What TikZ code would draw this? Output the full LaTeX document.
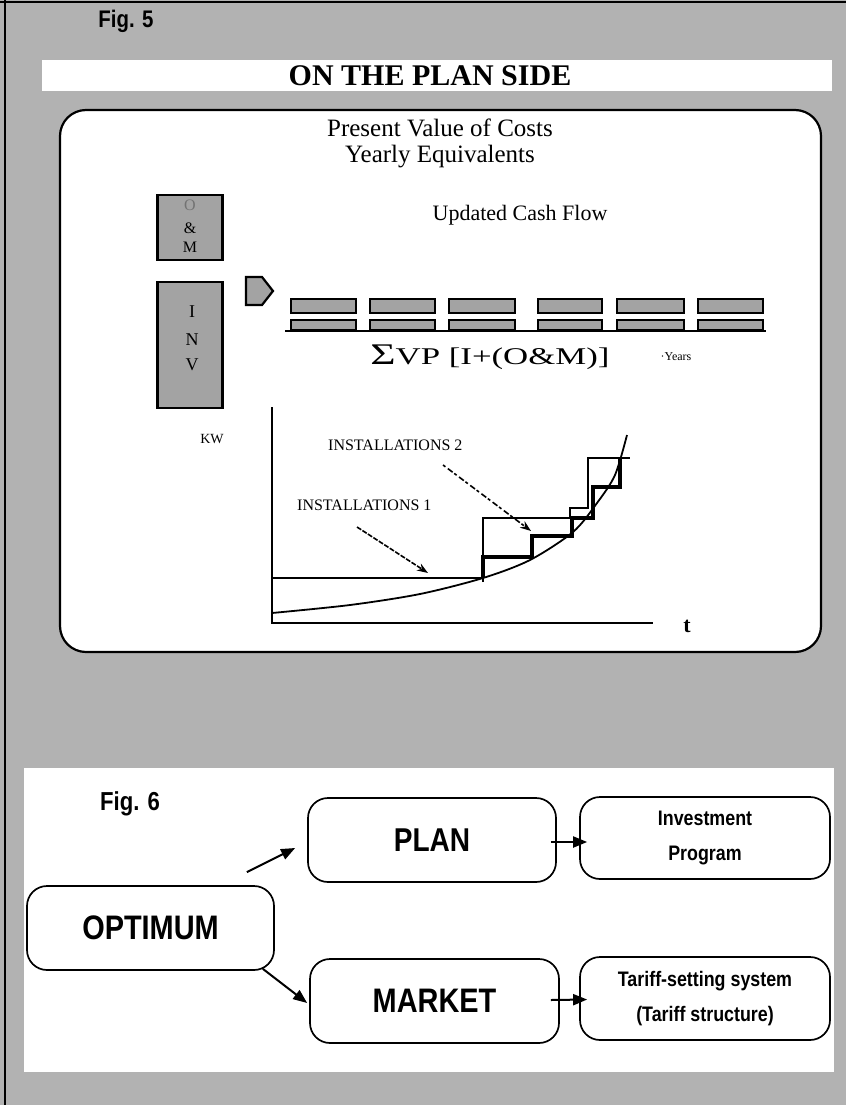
\documentclass[tikz,border=0pt]{standalone}
\usepackage{graphicx}
\usepackage{fontspec}
\setmainfont{Liberation Serif}
\newfontfamily\csans[FakeStretch=0.85]{Liberation Sans}
\usetikzlibrary{arrows.meta,calc}
\definecolor{bggray}{gray}{0.70}
\definecolor{boxgray}{gray}{0.64}
\tikzset{
  panel/.style={draw, line width=2.2pt, fill=white, rounded corners=26pt},
  flowbox/.style={draw, line width=1.7pt, fill=white, rounded corners=20pt, inner sep=0pt, align=center},
  hatchbox/.style={draw, line width=2.2pt, fill=boxgray, inner sep=0pt},
  cashbar/.style={draw, line width=2pt, fill=boxgray},
  lbl/.style={inner sep=0pt, align=center},
  flowarrow/.style={line width=2pt, -{Triangle[length=14pt,width=11pt]}},
  ptr/.style={line width=1.6pt, -{Stealth[length=11pt,width=8pt]}},
}
\begin{document}
\begin{tikzpicture}[x=1pt,y=-1pt]
\useasboundingbox (0,0) rectangle (846,1105);
\fill[bggray] (0,0) rectangle (846,1105);
\draw[line width=2pt] (5,0) -- (5,1105);
\draw[line width=1.5pt] (0,2) -- (846,2);

% ---------------- Fig. 5 ----------------
\node[lbl, font=\csans\bfseries\fontsize{24}{26}\selectfont] (fig5) at (126,21) {Fig. 5};
\fill[white] (42,60) rectangle (832,91);
\node[lbl, font=\bfseries\fontsize{30}{32}\selectfont] (title) at (430,76) {ON THE PLAN SIDE};

\draw[panel] (60,110) rectangle (821,652);

\node[lbl, font=\fontsize{25}{28}\selectfont] (pv) at (440,128) {Present Value of Costs};
\node[lbl, font=\fontsize{25}{28}\selectfont] (ye) at (440,157) {Yearly Equivalents};

% O&M and INV boxes
\node[hatchbox, minimum width=65pt, minimum height=65pt] (om) at (190,227.5) {};
\node[lbl, font=\fontsize{16}{17}\selectfont, text=black!55] (omO) at (190,205) {O};
\node[lbl, font=\fontsize{16}{17}\selectfont] (omA) at (190,228) {\&};
\node[lbl, font=\fontsize{16}{17}\selectfont] (omM) at (190,247) {M};

\node[hatchbox, minimum width=65pt, minimum height=126pt] (inv) at (190,345) {};
\node[lbl, font=\fontsize{18}{19}\selectfont] (invI) at (192,312) {I};
\node[lbl, font=\fontsize{18}{19}\selectfont] (invN) at (192,340) {N};
\node[lbl, font=\fontsize{18}{19}\selectfont] (invV) at (192,365) {V};

\node[lbl, font=\fontsize{22}{24}\selectfont] (ucf) at (520,215) {Updated Cash Flow};

% pentagon arrow
\draw[line width=2.2pt, fill=boxgray] (246,277) -- (262,277) -- (273,291) -- (262,305) -- (246,305) -- cycle;

% cash flow bars
\foreach \a/\b in {291/356, 370/435, 449/515, 538/602, 617/684, 698/763}{
  \draw[cashbar] (\a,299) rectangle (\b,313);
  \draw[cashbar] (\a,320) rectangle (\b,330);
}
\draw[line width=2pt] (285,331) -- (766,331);
\node[lbl, font=\fontsize{24}{26}\selectfont] (sum) at (490,357) {\scalebox{1.45}[1]{\fontsize{30}{30}\selectfont Σ}\scalebox{1.45}[1]{VP [I+(O\&M)]}};
\node[lbl, font=\fontsize{12}{13}\selectfont] (years) at (676,357) {·Years};

% graph
\node[lbl, font=\fontsize{14}{15}\selectfont] (kw) at (212,439) {KW};
\draw[line width=2.2pt] (272,407) -- (272,623) -- (653,623);
\node[lbl, font=\bfseries\fontsize{22}{24}\selectfont] (t) at (687,626) {t};

\draw[line width=1.8pt] plot[smooth] coordinates {(272,613) (350,605) (420,594) (483,578) (530,560) (573,532) (597,503) (615,475) (627,435)};
\draw[line width=1.8pt] (272,578) -- (483,578);
\draw[line width=2.4pt] (483,582) -- (483,518) -- (570,518) -- (570,508) -- (588,508) -- (588,458) -- (630,458);
\draw[line width=3.2pt] (483,578) -- (483,557) -- (532,557) -- (532,536) -- (572,536) -- (572,518) -- (593,518) -- (593,487) -- (620,487) -- (620,458);

\node[lbl, font=\fontsize{16}{17}\selectfont, anchor=west] (inst2) at (328,445) {INSTALLATIONS 2};
\node[lbl, font=\fontsize{16}{17}\selectfont, anchor=west] (inst1) at (297,505) {INSTALLATIONS 1};
\coordinate (i1s) at (357,527);
\coordinate (i1e) at (428,573);
\coordinate (i2s) at (443,465);
\coordinate (i2e) at (531,531);
\draw[ptr, dash pattern=on 5pt off 1.5pt] (i1s) -- (i1e);
\draw[ptr, dash pattern=on 3pt off 3pt on 6pt off 2pt] (i2s) -- (i2e);

% ---------------- Fig. 6 ----------------
\fill[white] (24,768) rectangle (834,1072);
\node[lbl, font=\csans\bfseries\fontsize{26}{28}\selectfont] (fig6) at (130,804) {Fig. 6};

\node[flowbox, minimum width=248pt, minimum height=84pt, font=\csans\bfseries\fontsize{33}{35}\selectfont] (plan) at (432,840) {PLAN};
\node[flowbox, minimum width=250pt, minimum height=82pt, font=\csans\bfseries\fontsize{21}{35}\selectfont] (invp) at (705,838) {Investment\\Program};
\node[flowbox, minimum width=247pt, minimum height=84pt, font=\csans\bfseries\fontsize{34}{36}\selectfont] (opt) at (150.5,928) {OPTIMUM};
\node[flowbox, minimum width=249pt, minimum height=84pt, font=\csans\bfseries\fontsize{34}{36}\selectfont] (mkt) at (434.5,1001) {MARKET};
\node[flowbox, minimum width=250pt, minimum height=83pt, font=\csans\bfseries\fontsize{21}{35}\selectfont] (tar) at (705,998.5) {Tariff-setting system\\(Tariff structure)};

\draw[flowarrow] ($(opt.north east)+(-28,-13)$) -- ($(plan.west)+(-12,8)$);
\draw[flowarrow] ($(opt.south east)+(-12,-2)$) -- ($(mkt.west)+(-2,2)$);
\draw[flowarrow] ($(plan.east)+(-6,2)$) -- ($(invp.west)+(8,4)$);
\draw[flowarrow] ($(mkt.east)+(-9,-1)$) -- ($(tar.west)+(8,1)$);
\end{tikzpicture}
\end{document}
